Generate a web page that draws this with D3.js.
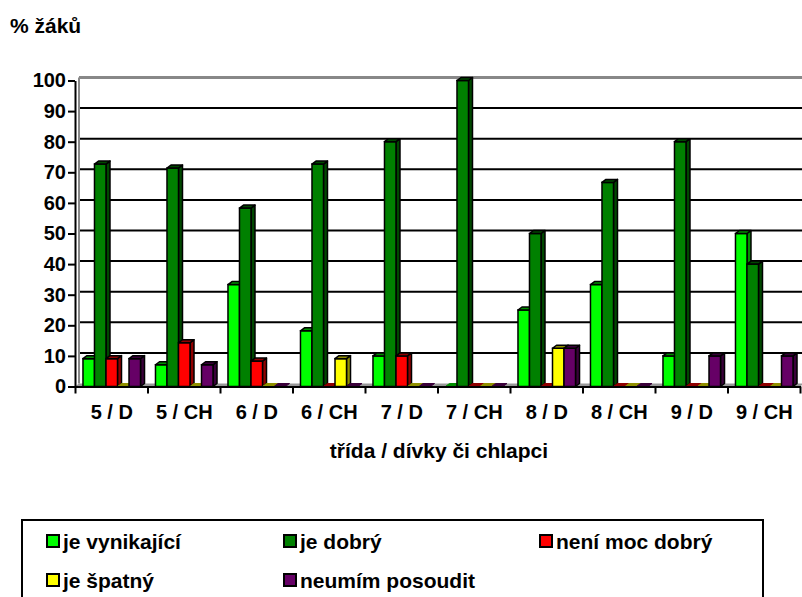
<!DOCTYPE html>
<html>
<head>
<meta charset="utf-8">
<script src="https://cdn.jsdelivr.net/npm/d3@7"></script>
<style>
  body { margin: 0; background: #fff; }
  text { font-family: "Liberation Sans", Arial, sans-serif; font-weight: bold; fill: #000; }
</style>
</head>
<body>
<div id="chart"></div>
<script>
// data (percent of pupils)
const categories = ["5 / D", "5 / CH", "6 / D", "6 / CH", "7 / D", "7 / CH", "8 / D", "8 / CH", "9 / D", "9 / CH"];
const seriesNames = ["je vynikající", "je dobrý", "není moc dobrý", "je špatný", "neumím posoudit"];
const vynikajici = [9.1, 7.1, 33.3, 18.2, 10, 0, 25, 33.3, 10, 50];
const dobry      = [72.7, 71.4, 58.3, 72.7, 80, 100, 50, 66.7, 80, 40];
const neniMoc    = [9.1, 14.3, 8.3, 0, 10, 0, 0, 0, 0, 0];
const spatny     = [0, 0, 0, 9.1, 0, 0, 12.5, 0, 0, 0];
const neumim     = [9.1, 7.1, 0, 0, 0, 0, 12.5, 0, 10, 10];
const yTicks = [0, 10, 20, 30, 40, 50, 60, 70, 80, 90, 100];
const colors = ["#00ff00", "#008000", "#ff0000", "#ffff00", "#660066"];

const seriesValues = [vynikajici, dobry, neniMoc, spatny, neumim];

const width = 802, height = 597;
const dx = 4, dy = 3; // 3d depth

const svg = d3.select("#chart").append("svg")
  .attr("width", width)
  .attr("height", height);

const x = d3.scaleBand().domain(categories).range([75.5, 800.5]);
const xs = d3.scaleBand().domain(seriesNames).range([0, x.bandwidth()]).paddingOuter(0.65);
const y = d3.scaleLinear().domain([0, 100]).range([386.5, 80.5]);
const color = d3.scaleOrdinal().domain(seriesNames).range(colors);

// floor
svg.append("polygon")
  .attr("points", [[75, y(0)], [800, y(0)], [800 + dx, y(0) - dy], [75 + dx, y(0) - dy]].join(" "))
  .attr("fill", "#999");

// back wall grid
svg.append("g")
  .selectAll("line")
  .data(yTicks.filter(d => d > 0 && d < 100))
  .join("line")
  .attr("x1", 75 + dx).attr("x2", 802)
  .attr("y1", d => y(d) - dy).attr("y2", d => y(d) - dy)
  .attr("stroke", "#000").attr("stroke-width", 2);

svg.append("line")
  .attr("x1", 75 + dx).attr("x2", 802)
  .attr("y1", y(100) - dy).attr("y2", y(100) - dy)
  .attr("stroke", "#888").attr("stroke-width", 3);
svg.append("line")
  .attr("x1", 75 + dx).attr("x2", 75 + dx)
  .attr("y1", y(100) - dy).attr("y2", y(0) - dy)
  .attr("stroke", "#888").attr("stroke-width", 2);

// bars
const bars = [];
categories.forEach((c, i) => {
  seriesNames.forEach((s, j) => {
    bars.push({ cat: c, name: s, value: seriesValues[j][i] });
  });
});

const barG = svg.append("g")
  .selectAll("g")
  .data(bars)
  .join("g");

const w = xs.bandwidth();
barG.each(function (d) {
  const g = d3.select(this);
  const x0 = x(d.cat) + xs(d.name);
  const yt = y(d.value), yb = y(0);
  const c = color(d.name);
  const dark = d3.color(c).darker(1.6);
  if (d.value > 0) {
    g.append("polygon")
      .attr("points", [[x0 + w, yt], [x0 + w + dx, yt - dy], [x0 + w + dx, yb - dy], [x0 + w, yb]].join(" "))
      .attr("fill", dark).attr("stroke", "#000").attr("stroke-width", 1.5).attr("stroke-linejoin", "round");
    g.append("rect")
      .attr("x", x0).attr("y", yt)
      .attr("width", w).attr("height", yb - yt)
      .attr("fill", c).attr("stroke", "#000").attr("stroke-width", 1.5);
  }
  g.append("polygon")
    .attr("points", [[x0, yt], [x0 + dx, yt - dy], [x0 + w + dx, yt - dy], [x0 + w, yt]].join(" "))
    .attr("fill", dark).attr("stroke", d.value > 0 ? "#000" : dark).attr("stroke-width", d.value > 0 ? 1.5 : 1)
    .attr("stroke-linejoin", "round");
});

// y axis
const yAxis = svg.append("g")
  .attr("transform", "translate(75,0)")
  .call(d3.axisLeft(y).tickValues(yTicks).tickSize(7).tickSizeOuter(0).tickPadding(2));
yAxis.select(".domain").attr("stroke-width", 2);
yAxis.selectAll(".tick line").attr("stroke-width", 2);
yAxis.selectAll("text").attr("font-size", 20).style("font-family", "Liberation Sans, Arial, sans-serif").attr("font-weight", "bold");

// x axis
const xAxis = svg.append("g")
  .attr("transform", `translate(0,${y(0)})`)
  .call(d3.axisBottom(x).tickSize(0).tickSizeOuter(0).tickPadding(18));
xAxis.select(".domain").attr("stroke-width", 2);
xAxis.selectAll("text").attr("font-size", 20).style("font-family", "Liberation Sans, Arial, sans-serif").attr("font-weight", "bold");
xAxis.selectAll("line.bound")
  .data(categories.map(c => x(c)).concat([x.range()[1]]))
  .join("line")
  .attr("class", "bound")
  .attr("x1", d => d).attr("x2", d => d)
  .attr("y1", 0).attr("y2", 7)
  .attr("stroke", "#000").attr("stroke-width", 2);

// titles
svg.append("text").attr("x", 10).attr("y", 33).attr("font-size", 21).text("% žáků");
svg.append("text").attr("x", 439).attr("y", 458).attr("text-anchor", "middle").attr("font-size", 21)
  .text("třída / dívky či chlapci");

// legend
svg.append("rect")
  .attr("x", 22).attr("y", 520).attr("width", 741).attr("height", 120)
  .attr("fill", "none").attr("stroke", "#000").attr("stroke-width", 2);

const legendPos = [[47, 541], [284, 541], [540, 541], [47, 580], [284, 580]];
const leg = svg.append("g")
  .selectAll("g")
  .data(seriesNames)
  .join("g")
  .attr("transform", (d, i) => `translate(${legendPos[i][0]},${legendPos[i][1]})`);
leg.append("rect")
  .attr("x", 0).attr("y", -6).attr("width", 12).attr("height", 12)
  .attr("fill", d => color(d)).attr("stroke", "#000").attr("stroke-width", 2);
leg.append("text")
  .attr("x", 16).attr("y", 7.5).attr("font-size", 21)
  .text(d => d);
</script>
</body>
</html>
